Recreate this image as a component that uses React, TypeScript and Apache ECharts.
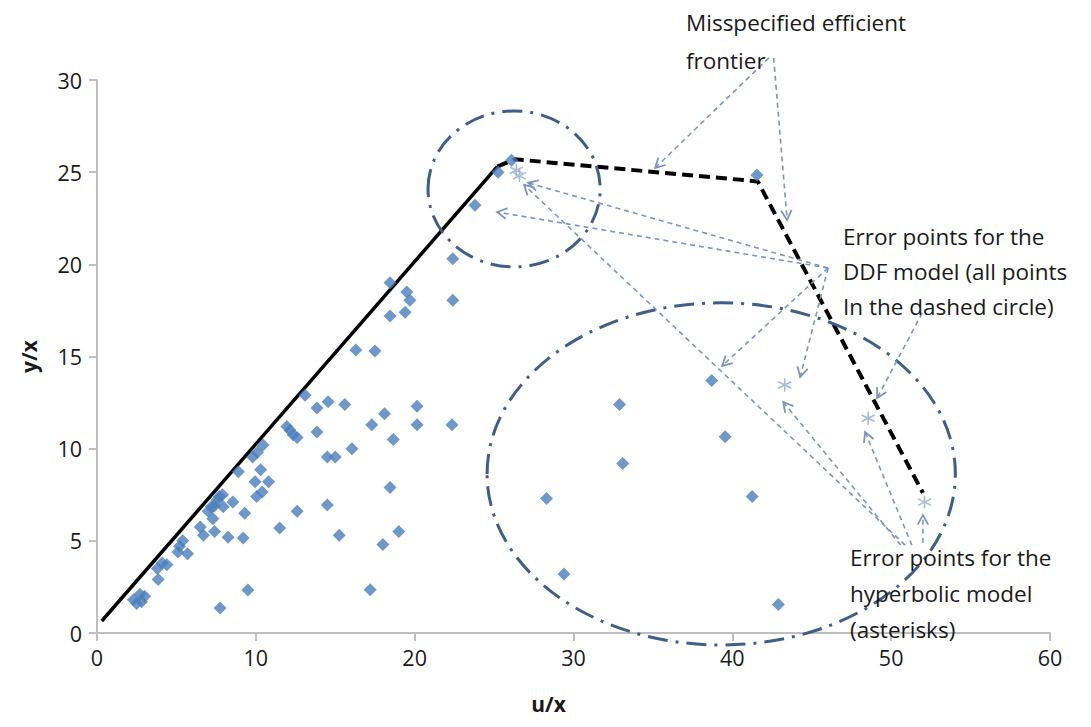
import React, { useEffect, useRef } from "react";
import * as echarts from "echarts";

// Observed DMUs (u/x, y/x)
const observedPoints: [number, number][] = [
  [2.3, 1.8], [2.7, 2.1], [2.5, 1.6], [3.0, 2.0], [2.8, 1.7],
  [3.85, 2.9], [3.8, 3.5], [4.1, 3.8], [4.4, 3.7],
  [5.1, 4.4], [5.2, 4.7], [5.4, 5.0], [5.7, 4.3],
  [6.5, 5.75], [6.7, 5.3], [7.4, 5.5], [8.25, 5.2], [9.2, 5.15],
  [7.0, 6.6], [7.3, 6.2], [7.2, 6.85], [7.55, 7.2], [7.9, 7.5], [7.95, 6.85], [8.55, 7.1],
  [7.7, 7.4], [7.4, 6.9],
  [9.3, 6.5], [8.9, 8.75],
  [9.8, 9.55], [10.1, 9.8], [10.45, 10.2],
  [10.3, 8.85], [9.95, 8.2], [10.8, 8.2], [10.05, 7.4], [10.4, 7.65],
  [12.15, 11.0], [12.35, 10.75], [11.95, 11.2], [12.6, 10.6],
  [12.6, 6.6], [11.5, 5.7], [9.5, 2.33], [7.75, 1.35],
  [13.1, 12.9], [13.85, 12.2], [14.55, 12.55], [15.6, 12.4],
  [18.1, 11.9], [20.15, 12.3], [17.3, 11.3], [20.15, 11.3], [22.35, 11.3],
  [13.85, 10.9], [18.65, 10.5], [16.05, 10.0], [14.5, 9.55], [15.0, 9.55],
  [18.45, 7.9], [14.5, 6.95], [15.25, 5.3], [19.0, 5.5], [18.0, 4.8], [17.2, 2.35],
  [22.4, 20.3], [18.45, 19.0], [19.5, 18.5], [19.7, 18.05], [19.4, 17.4], [18.45, 17.2], [22.4, 18.05],
  [16.3, 15.35], [17.5, 15.3], [23.8, 23.2],
  [25.25, 25.0], [26.1, 25.65], [41.55, 24.85],
  [38.7, 13.7], [32.9, 12.4], [39.55, 10.65], [33.1, 9.2], [28.3, 7.3],
  [41.25, 7.4], [29.4, 3.2], [42.9, 1.55],
];

// Error points (asterisks)
const errorPoints: [number, number][] = [
  [26.4, 25.1], [26.6, 24.8], [43.3, 13.45], [48.55, 11.65], [52.1, 7.1],
];

// Frontiers
const trueFrontier: [number, number][] = [[0.3, 0.65], [25.2, 25.3]];
const misspecifiedFrontier: [number, number][] = [[25.2, 25.3], [26.3, 25.7], [41.6, 24.5], [52.0, 7.6]];

// Annotation geometry in data units
const smallCircle = { cx: 26.26, cy: 24.09, rx: 5.42, ry: 4.23 };
const bigCircle = { cx: 39.3, cy: 8.63, rx: 14.74, ry: 9.28 };

const arrows: { from: [number, number]; to: [number, number] }[] = [
  // misspecified frontier label
  { from: [42.3, 31.2], to: [35.14, 25.23] },
  { from: [42.6, 31.2], to: [43.45, 22.41] },
  // DDF label
  { from: [46.03, 19.8], to: [25.19, 22.84] },
  { from: [46.03, 19.8], to: [27.14, 24.42] },
  { from: [46.03, 19.8], to: [39.36, 14.49] },
  { from: [46.03, 19.8], to: [44.27, 13.89] },
  { from: [51.95, 17.36], to: [49.12, 12.75] },
  // hyperbolic label
  { from: [50.88, 4.77], to: [26.89, 24.31] },
  { from: [50.6, 4.77], to: [43.2, 12.53] },
  { from: [51.3, 4.77], to: [48.36, 10.9] },
  { from: [52.0, 4.9], to: [52.0, 6.4] },
];

const xTicks = { min: 0, max: 60, interval: 10 };
const yTicks = { min: 0, max: 30, interval: 5 };

const FONT = "'Open Sans', 'Noto Sans', sans-serif";
const ASTERISK = "path://M6,0L6,12M0.8,3L11.2,9M0.8,9L11.2,3";

export default function App() {
  const ref = useRef<HTMLDivElement>(null);
  useEffect(() => {
    document.body.style.margin = "0";
    const chart = echarts.init(ref.current!, null, { renderer: "svg" });
    const axisLine = { show: true, lineStyle: { color: "#bfbfbf", width: 2 } };
    chart.setOption({
      animation: false,
      backgroundColor: "#ffffff",
      grid: { left: 97, right: 41, top: 80, bottom: 94, containLabel: false },
      xAxis: {
        type: "value",
        ...xTicks,
        name: "u/x",
        nameLocation: "middle",
        nameGap: 60,
        nameTextStyle: { fontFamily: FONT, fontWeight: "bold", fontSize: 21, color: "#1a1a1a", padding: [0, 50, 0, 0] },
        axisLine,
        axisTick: { show: true, inside: false, length: 8, lineStyle: { color: "#bfbfbf", width: 2 } },
        axisLabel: { fontFamily: FONT, fontSize: 21.5, color: "#1a1a1a", margin: 13 },
        splitLine: { show: false },
      },
      yAxis: {
        type: "value",
        ...yTicks,
        name: "y/x",
        nameLocation: "middle",
        nameGap: 58,
        nameRotate: 90,
        nameTextStyle: { fontFamily: FONT, fontWeight: "bold", fontSize: 21, color: "#1a1a1a" },
        axisLine,
        axisTick: { show: true, inside: false, length: 8, lineStyle: { color: "#bfbfbf", width: 2 } },
        axisLabel: { fontFamily: FONT, fontSize: 21.5, color: "#1a1a1a", margin: 15 },
        splitLine: { show: false },
      },
      series: [
        {
          type: "line",
          data: trueFrontier,
          symbol: "none",
          lineStyle: { color: "#000000", width: 3.5 },
          z: 3,
        },
        {
          type: "line",
          data: misspecifiedFrontier,
          symbol: "none",
          lineStyle: { color: "#000000", width: 4, type: [11, 6] },
          z: 3,
        },
        {
          type: "scatter",
          data: observedPoints,
          symbol: "diamond",
          symbolSize: 13,
          itemStyle: { color: "#4a7ebb" },
          z: 4,
        },
        {
          type: "scatter",
          data: errorPoints,
          symbol: ASTERISK,
          symbolSize: 13,
          itemStyle: { color: "rgba(0,0,0,0)", borderColor: "#95a9c8", borderWidth: 1.6 },
          z: 4,
        },
      ],
    });

    const px = (p: [number, number]) => chart.convertToPixel({ gridIndex: 0 }, p) as number[];
    const graphics: any[] = [];
    const arrowColor = "#7d95bd";
    arrows.forEach((a) => {
      const f = px(a.from);
      const t = px(a.to);
      const ang = Math.atan2(f[1] - t[1], f[0] - t[0]);
      const L = 11;
      const s = 0.5;
      graphics.push({
        type: "line",
        shape: { x1: f[0], y1: f[1], x2: t[0], y2: t[1] },
        style: { stroke: arrowColor, lineWidth: 1.6, lineDash: [5, 4] },
        z: 10,
      });
      graphics.push({
        type: "polyline",
        shape: {
          points: [
            [t[0] + L * Math.cos(ang + s), t[1] + L * Math.sin(ang + s)],
            [t[0], t[1]],
            [t[0] + L * Math.cos(ang - s), t[1] + L * Math.sin(ang - s)],
          ],
        },
        style: { stroke: arrowColor, lineWidth: 1.8, fill: "none" },
        z: 10,
      });
    });
    [smallCircle, bigCircle].forEach((c) => {
      const ctr = px([c.cx, c.cy]);
      const edge = px([c.cx + c.rx, c.cy + c.ry]);
      graphics.push({
        type: "ellipse",
        shape: { cx: ctr[0], cy: ctr[1], rx: Math.abs(edge[0] - ctr[0]), ry: Math.abs(ctr[1] - edge[1]) },
        style: { fill: "none", stroke: "#3f5f8a", lineWidth: 3, lineDash: [20, 8, 3, 8] },
        z: 9,
      });
    });
    const texts = [
      { text: "Misspecified efficient\nfrontier", x: 686, y: 3, lh: 38 },
      { text: "Error points for the\nDDF model (all points\nIn the dashed circle)", x: 843, y: 219, lh: 35 },
      { text: "Error points for the\nhyperbolic model\n(asterisks)", x: 850, y: 539, lh: 36 },
    ];
    texts.forEach((t) => {
      graphics.push({
        type: "text",
        x: t.x,
        y: t.y,
        style: {
          text: t.text,
          fontFamily: FONT,
          fontSize: 22.5,
          lineHeight: t.lh,
          fill: "#1a1a1a",
          verticalAlign: "top",
          align: "left",
        },
        z: 11,
      });
    });
    chart.setOption({ graphic: graphics });
    return () => chart.dispose();
  }, []);
  return <div ref={ref} style={{ width: 1091, height: 727 }} />;
}
